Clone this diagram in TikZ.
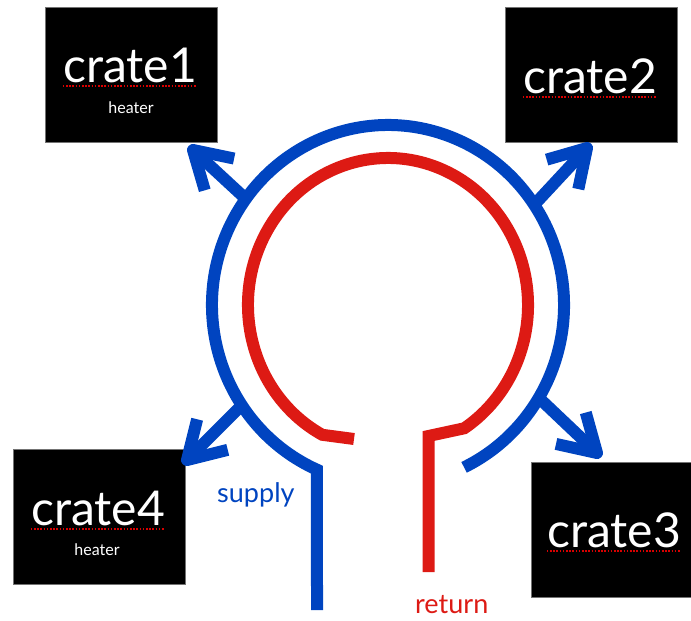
\documentclass[tikz,border=0pt]{standalone}
\usepackage{fontspec}
\newfontfamily\labelfont{Lato}
\usetikzlibrary{calc}
\definecolor{pipeblue}{RGB}{0,68,192}
\definecolor{pipered}{RGB}{221,26,20}
\begin{document}
\begin{tikzpicture}[x=1pt,y=1pt,yscale=-1,
  supplypipe/.style={draw=pipeblue,line width=12pt,line join=miter},
  returnpipe/.style={draw=pipered,line width=12pt,line join=miter},
  outlet/.style={draw=pipeblue,line width=12pt,line join=round},
  crate/.style={fill=black,draw=black!55,line width=0.6pt,minimum width=172pt,minimum height=135pt,inner sep=0pt},
  cratename/.style={text=white,font=\labelfont\fontsize{48}{48}\selectfont,inner sep=0pt,anchor=base},
  note/.style={text=white,font=\labelfont\fontsize{16}{16}\selectfont,inner sep=0pt},
  pipelabel/.style={font=\labelfont\fontsize{27}{27}\selectfont,inner sep=0pt,anchor=base west},
  spell/.style={draw=red!85!black,line width=1.6pt,dash pattern=on 1.6pt off 1.6pt},
]
\clip (0,0) rectangle (691,621);

% crates
\node[crate] (box1) at (131.5,74.5) {};
\node[crate] (box2) at (591,74.5) {};
\node[crate] (box4) at (99,517) {};
\node[crate] (box3) at (617,529.5) {};

\node[cratename] (n1) at (130,82) {crate1};
\node[cratename] (n2) at (590,93) {crate2};
\node[cratename] (n4) at (98,525) {crate4};
\node[cratename] (n3) at (614,547) {crate3};
\node[note] (h1) at (131,108) {heater};
\node[note] (h4) at (97,550) {heater};

\foreach \n in {n1,n2,n3,n4}
  \draw[spell] ($(\n.base west)+(0,4)$) -- ($(\n.base east)+(0,4)$);

% ring geometry
\coordinate (c) at (388,305);
\coordinate (sbot) at (317,610);
\coordinate (scorner) at ($(c)+(113.8:176 and 180)$);
\coordinate (rstub) at (354,439);
\coordinate (rleft) at ($(c)+(118:140 and 147)$);
\coordinate (rcorner) at (428.5,436);
\coordinate (rbot) at (428.5,572);

% outlets to the crates
\coordinate (b1) at (246,199);  \coordinate (t1) at (193,150);
\coordinate (b2) at (534,205);  \coordinate (t2) at (587,148);
\coordinate (b3) at (539,398);  \coordinate (t3) at (597,453);
\coordinate (b4) at (242,405);  \coordinate (t4) at (187,460);
\foreach \b/\t in {b1/t1,b2/t2,b3/t3,b4/t4}{
  \draw[outlet] (\b) -- (\t);
  \draw[outlet] ($(\t)!42pt!31:(\b)$) -- (\t) -- ($(\t)!42pt!-31:(\b)$);
}

% supply loop
\draw[supplypipe] (sbot) -- (scorner) arc[start angle=113.8,end angle=424.4,x radius=176,y radius=180];
% return loop
\draw[returnpipe] (rstub) -- (rleft) arc[start angle=118,end angle=417,x radius=140,y radius=147] -- (rcorner) -- (rbot);

\node[pipelabel,text=pipeblue] (supply) at (217,502) {supply};
\node[pipelabel,text=pipered] (return) at (415,613) {return};
\end{tikzpicture}
\end{document}
